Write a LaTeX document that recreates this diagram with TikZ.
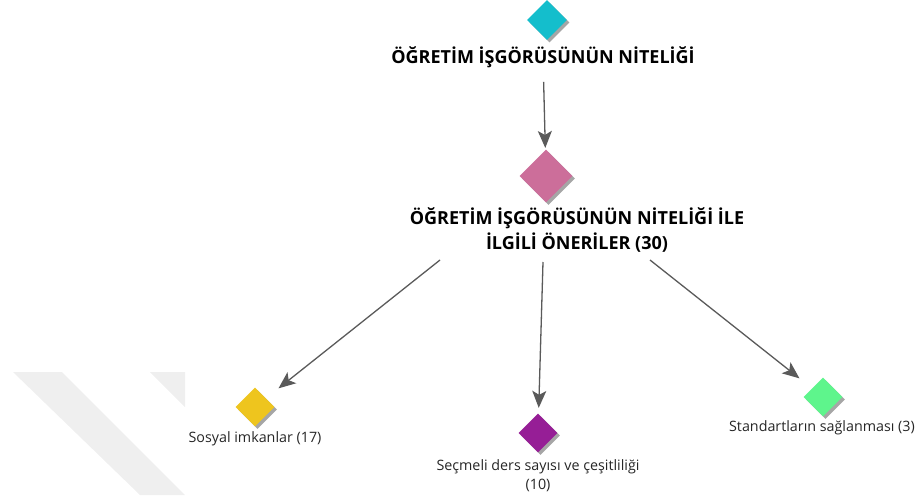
\documentclass[tikz,border=0pt]{standalone}
\usepackage{fontspec}
\setmainfont{Open Sans}
\usetikzlibrary{shapes.geometric,arrows.meta,shadows}
\definecolor{cCyan}{HTML}{14BECC}
\definecolor{cPink}{HTML}{CC6E9A}
\definecolor{cYellow}{HTML}{EEC51E}
\definecolor{cPurple}{HTML}{961E96}
\definecolor{cGreen}{HTML}{5EF58C}
\definecolor{cArrow}{HTML}{5A5A5A}
\definecolor{cShadow}{HTML}{A6A6A6}
\definecolor{cMark}{HTML}{EFEFEF}
\begin{document}
\begin{tikzpicture}[x=1pt,y=-1pt,
  gem/.style={diamond,aspect=1,inner sep=0pt,minimum size=#1,draw=none,
    drop shadow={shadow xshift=2.5pt,shadow yshift=-2.5pt,fill=cShadow,opacity=1}},
  bigtitle/.style={font=\bfseries\fontsize{18}{25}\selectfont,align=center,inner sep=0pt},
  lbl/.style={font=\fontsize{14.3}{19}\selectfont,align=center,inner sep=0pt,text=black!85},
  arr/.style={draw=cArrow,line width=1.3pt,-{Stealth[length=17pt,width=14pt,inset=4pt]}}]
\useasboundingbox (0,0) rectangle (917,495);
% watermark
\begin{scope}
\clip (0,365) rectangle (185,495);
\fill[cMark] (13,372) -- (62,372) -- (185,495) -- (140,495) -- cycle;
\fill[cMark] (150,372) -- (185,372) -- (185,407) -- cycle;
\end{scope}
% nodes
\node[gem=40pt,fill=cCyan] (d1) at (547,20) {};
\node[bigtitle] (t1) at (543,57) {ÖĞRETİM İŞGÖRÜSÜNÜN NİTELİĞİ};
\node[gem=53pt,fill=cPink] (d2) at (546,176) {};
\node[bigtitle] (t2) at (577,230) {ÖĞRETİM İŞGÖRÜSÜNÜN NİTELİĞİ İLE\\İLGİLİ ÖNERİLER (30)};
\node[gem=39pt,fill=cYellow] (d3) at (255,407) {};
\node[lbl] (l3) at (255,439) {Sosyal imkanlar (17)};
\node[gem=39pt,fill=cPurple] (d4) at (538,433) {};
\node[lbl] (l4) at (538,476) {Seçmeli ders sayısı ve çeşitliliği\\(10)};
\node[gem=39pt,fill=cGreen] (d5) at (823,397) {};
\node[lbl] (l5) at (822,428) {Standartların sağlanması (3)};
% connectors
\coordinate (s1) at (440,260);
\coordinate (s2) at (543,262);
\coordinate (s3) at (650,260);
\draw[arr,shorten <=14pt,shorten >=2pt] (t1) -- (d2);
\draw[arr,shorten >=16pt] (s1) -- (d3);
\draw[arr,shorten >=6pt] (s2) -- (d4);
\draw[arr,shorten >=16pt] (s3) -- (d5);
\end{tikzpicture}
\end{document}
